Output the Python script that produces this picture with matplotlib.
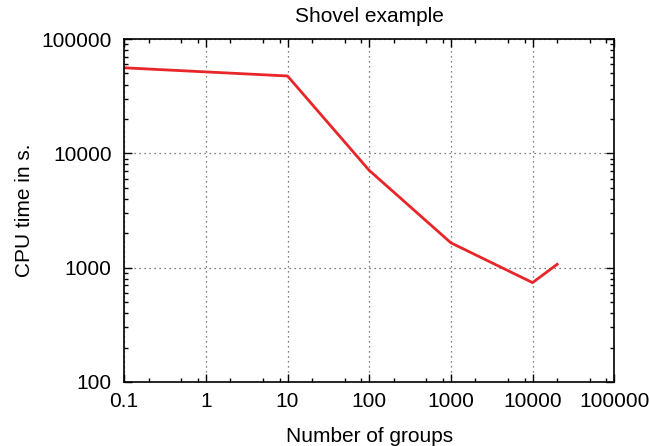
import matplotlib
matplotlib.use("Agg")
import matplotlib.pyplot as plt
from matplotlib.ticker import FixedLocator, FixedFormatter, LogLocator, NullFormatter

plt.rcParams['font.family'] = ['Liberation Sans', 'DejaVu Sans']

# data
groups = [0.1, 10, 100, 1000, 10000, 20000]
cpu_time = [56000, 47500, 7100, 1650, 740, 1070]

xticks = [0.1, 1, 10, 100, 1000, 10000, 100000]
xtick_labels = ["0.1", "1", "10", "100", "1000", "10000", "100000"]
yticks = [100, 1000, 10000, 100000]
ytick_labels = ["100", "1000", "10000", "100000"]

fig = plt.figure(figsize=(6.5, 4.46), dpi=100)
ax = fig.add_axes([0.191, 0.1435, 0.754, 0.769])

ax.plot(groups, cpu_time, color="#e8262a", linewidth=2)
ax.set_xscale("log")
ax.set_yscale("log")
ax.set_xlim(0.1, 100000)
ax.set_ylim(100, 100000)

ax.xaxis.set_major_locator(FixedLocator(xticks))
ax.xaxis.set_major_formatter(FixedFormatter(xtick_labels))
ax.yaxis.set_major_locator(FixedLocator(yticks))
ax.yaxis.set_major_formatter(FixedFormatter(ytick_labels))
# gnuplot-style minor ticks: x only at 2,5,8, y at every sub
ax.xaxis.set_minor_locator(LogLocator(base=10, subs=[2, 5, 8], numticks=20))
ax.yaxis.set_minor_locator(LogLocator(base=10, subs=range(2, 10), numticks=20))
ax.xaxis.set_minor_formatter(NullFormatter())
ax.yaxis.set_minor_formatter(NullFormatter())

ax.tick_params(which="both", direction="in", top=True, right=True, labelsize=15)
ax.tick_params(which="major", length=6, width=1)
ax.tick_params(which="minor", length=3, width=1)
ax.tick_params(axis="x", pad=7)
ax.tick_params(axis="y", pad=9)
for s in ax.spines.values():
    s.set_linewidth(1.2)

ax.grid(True, which="major", linestyle=(0, (1, 3)), color="#555555", linewidth=0.9)

ax.set_title("Shovel example", fontsize=15, pad=12)
ax.set_xlabel("Number of groups", fontsize=15, labelpad=12)
ax.set_ylabel("CPU time in s.", fontsize=15, labelpad=5)

fig.savefig("out.png", dpi=100)
